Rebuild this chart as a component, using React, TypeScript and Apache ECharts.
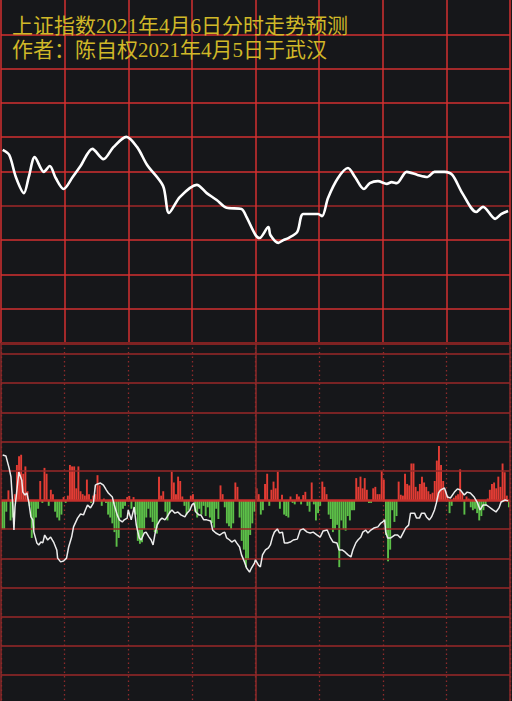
import React, { useEffect, useRef } from "react";
import * as echarts from "echarts";

const titleLines = ["上证指数2021年4月6日分时走势预测", "作者：陈自权2021年4月5日于武汉"];

// minutes since open (0-240), forecast level in grid units
const forecast: [number, number][] = [
  [0.8, 5.63], [3.9, 5.48], [7.0, 4.84], [10.8, 4.37], [13.1, 4.84], [15.9, 5.42], [20.2, 4.99], [23.0, 5.16],
  [25.8, 4.81], [29.5, 4.49], [33.8, 4.84], [37.5, 5.16], [43.1, 5.66], [48.3, 5.36], [53.0, 5.71], [59.1, 6.01],
  [64.2, 5.71], [68.9, 5.19], [76.4, 4.58], [79.2, 3.79], [84.4, 4.26], [92.3, 4.61], [97.0, 4.37], [101.7, 4.17],
  [106.4, 3.94], [113.4, 3.91], [115.8, 3.67], [120.0, 3.15], [121.9, 3.06], [126.1, 3.38], [127.0, 3.15],
  [130.8, 2.92], [133.1, 3.0], [135.5, 3.06], [139.7, 3.24], [142.5, 3.76], [149.5, 3.76], [151.4, 3.7],
  [154.2, 4.23], [158.9, 4.81], [163.6, 5.1], [166.9, 4.84], [171.1, 4.49], [173.9, 4.66], [177.7, 4.72],
  [181.9, 4.64], [184.2, 4.69], [186.6, 4.66], [191.3, 4.99], [196.4, 4.9], [201.1, 4.84], [204.4, 4.99],
  [209.1, 4.99], [212.8, 4.9], [217.5, 4.37], [224.1, 3.82], [227.3, 3.97], [233.0, 3.62], [235.8, 3.76],
  [239.1, 3.85],
];

// per-minute flow bars (grid units), four half-hour pairs
const flowMorning1 = [
  -1.0, -1.0, -0.4, 0.33, -0.7, -0.6, 0.2, 1.2, 1.5, 1.55, 0.9, 1.15, 0.3, -0.2, -1.3, -1.0, -0.6, -0.3, 0.65, -0.1,
  1.1, 0.9, -0.2, 0.35, 0.2, -0.4, -0.6, -0.7, -0.5, 0.1, -0.1, 0.15, 1.2, 1.15, 1.15, 0.4, 1.15, 0.3, 0.2, 0.15,
  0.7, 0.2, -0.1, 0.15, 0.2, 0.85, 0.5, -0.2, 0.05, -0.1, -0.5, -0.6, -0.8, -1.1, -1.6, -1.3, -0.6, -0.3, -0.2, 0.1,
];
const flowMorning2 = [
  0.14, -0.3, 0.1, -0.5, -1.4, -1.5, -1.45, -1.0, -0.6, -0.3, -0.6, -0.75, -1.1, -1.15, 0.8, 0.15, 0.3, -0.4, -0.7, -0.45,
  0.97, 0.6, 0.2, 0.8, 0.65, 0.12, -0.2, -0.5, -0.35, 0.15, 0.2, -0.4, -0.6, -0.3, -0.5, -0.2, -0.55, -0.25, -0.6, -0.8,
  -0.95, -0.3, -0.65, 0.5, 0.2, -0.25, -0.8, -0.9, -1.0, -0.8, 0.6, 0.45, -0.6, -1.4, -1.7, -2.3, -2.05, -1.2, -0.8, -0.4,
];
const flowAfternoon1 = [
  0.4, 0.2, -0.5, -0.35, 0.55, 0.9, -0.2, 0.35, 0.63, 0.4, 0.97, -0.3, 0.18, -0.5, -0.55, -0.6, 0.12, -0.1, -0.15, 0.2,
  0.12, -0.15, 0.17, 0.28, -0.2, -0.4, 0.6, -0.15, -0.7, -0.45, -0.2, 0.63, 0.45, 0.2, -0.5, -0.65, -1.1, -1.0, -0.85, -2.3,
  -0.7, -1.0, -1.05, -0.55, -0.7, -0.35, -0.35, 0.75, 0.45, 0.8, 0.4, 0.75, 0.35, -0.1, -0.1, 0.4, 0.45, 0.2, 0.2, 1.0,
];
const flowAfternoon2 = [
  0.7, -1.2, -2.1, -1.7, -0.35, -0.75, -0.55, 0.63, 0.18, 0.15, 0.9, 0.55, 0.5, 1.25, 1.25, 0.45, 0.3, 0.55, 0.8, 0.6,
  0.45, 0.3, 0.2, 0.25, 0.65, 1.35, 1.85, 1.2, 0.65, 0.35, 0.15, -0.45, -0.2, 0.08, 0.15, 0.2, 1.05, 0.25, -0.5, 0.12,
  0.05, -0.25, -0.35, -0.3, -0.45, -0.7, -0.55, -0.35, -0.2, 0.05, 0.35, 0.55, 0.6, 0.4, 0.8, 0.45, 1.25, 0.95, 0.15, -0.25,
];

// cumulative flow line (minute, grid units)
const flowLine: [number, number][] = [
  [0.8, 1.54], [2.3, 1.51], [3.8, 1.1], [4.7, 0.79], [5.6, -0.24], [6.1, -1.03], [6.6, -0.24], [7.5, 0.34],
  [8.4, 0.96], [9.8, 0.68], [10.3, 0.27], [11.3, 0.17], [12.2, 0.24], [13.1, -0.07], [14.1, -0.58], [15.0, -0.68],
  [15.5, -1.1], [16.9, -1.47], [17.8, -1.54], [18.8, -1.44], [19.7, -1.47], [20.6, -1.2], [22.0, -1.37],
  [23.4, -1.27], [24.8, -1.44], [26.3, -1.71], [26.7, -1.99], [28.1, -2.12], [29.5, -2.09], [30.9, -1.99],
  [31.9, -1.61], [33.3, -1.27], [34.2, -0.92], [36.1, -0.62], [37.5, -0.48], [38.9, -0.51], [39.8, -0.34],
  [40.8, -0.17], [42.2, -0.27], [43.6, -0.1], [44.5, 0.51], [45.5, 0.55], [46.9, 0.58], [48.3, 0.51], [49.7, 0.34],
  [50.6, 0.24], [52.5, 0.1], [53.4, -0.17], [54.8, -0.51], [55.8, -0.68], [57.2, -0.75], [58.1, -0.68],
  [59.5, -0.62], [60.0, -0.34], [61.4, -0.68], [62.8, -0.24], [63.8, -0.86], [65.2, -1.3], [66.1, -1.37],
  [67.5, -1.13], [68.4, -1.1], [69.8, -1.27], [70.8, -1.37], [71.7, -1.54], [72.7, -1.13], [73.6, -0.86],
  [75.0, -0.68], [75.9, -0.62], [77.3, -0.68], [78.3, -0.58], [79.7, -0.41], [80.6, -0.34], [82.0, -0.45],
  [83.4, -0.41], [84.8, -0.51], [86.7, -0.58], [87.7, -0.45], [89.1, -0.34], [90.0, -0.17], [90.9, -0.1],
  [91.9, -0.41], [93.3, -0.51], [94.2, -0.51], [95.6, -0.68], [97.0, -0.68], [98.9, -0.72], [99.8, -1.03],
  [101.3, -1.13], [103.1, -1.2], [104.5, -1.13], [105.5, -1.1], [106.4, -1.3], [107.8, -1.37], [108.8, -1.44],
  [110.2, -1.37], [111.1, -1.47], [112.5, -1.61], [113.4, -1.88], [114.8, -2.12], [115.8, -2.33], [117.2, -2.47],
  [118.1, -2.33], [119.5, -2.16], [120.0, -2.05], [121.4, -2.23], [122.3, -2.29], [123.3, -1.88], [124.7, -1.71],
  [126.1, -1.64], [127.0, -1.54], [128.0, -1.27], [128.9, -1.1], [130.3, -0.99], [131.3, -1.13], [132.7, -1.1],
  [133.6, -1.47], [135.0, -1.47], [136.4, -1.44], [137.8, -1.37], [139.7, -1.34], [141.1, -1.03], [142.5, -0.99],
  [144.4, -1.1], [145.8, -1.13], [147.2, -1.1], [149.1, -1.2], [150.5, -1.27], [151.9, -1.06], [153.8, -1.03],
  [155.2, -1.27], [156.6, -1.44], [158.4, -1.47], [159.4, -1.71], [160.8, -1.71], [162.2, -1.78], [163.6, -1.88],
  [165.0, -1.95], [165.9, -1.71], [167.3, -1.47], [168.3, -1.37], [169.7, -1.27], [170.6, -1.1], [172.0, -1.03],
  [173.0, -1.13], [174.4, -1.03], [175.8, -0.96], [177.7, -0.92], [179.1, -0.79], [180.0, -0.75], [180.9, -0.68],
  [181.4, -1.1], [182.3, -1.3], [183.8, -1.3], [185.6, -1.2], [187.0, -1.2], [188.4, -1.3], [189.8, -1.1],
  [190.8, -0.96], [192.2, -0.86], [193.1, -0.45], [195.0, -0.45], [195.9, -0.62], [197.3, -0.62], [198.3, -0.45],
  [199.7, -0.45], [200.6, -0.58], [202.0, -0.68], [203.0, -0.58], [204.4, -0.34], [205.3, -0.1], [206.3, 0.24],
  [207.2, 0.34], [209.1, 0.41], [210.5, 0.1], [211.9, 0.07], [213.8, 0.27], [215.2, 0.38], [216.6, 0.34],
  [218.4, 0.17], [219.8, 0.27], [221.3, 0.24], [223.1, 0.1], [224.5, -0.07], [225.9, -0.34], [227.3, -0.17],
  [228.8, -0.17], [230.2, -0.24], [232.0, -0.34], [233.4, -0.41], [234.8, -0.27], [235.8, -0.07], [237.7, 0.0],
  [239.1, -0.03],
];

const flowGridLevels = [-6, -5, -4, -3, -2, -1, 1, 2, 3, 4, 5];

export default function App() {
  const ref = useRef<HTMLDivElement>(null);
  useEffect(() => {
    const chart = echarts.init(ref.current!, null, { renderer: "svg" });
    const bars = [...flowMorning1, ...flowMorning2, ...flowAfternoon1, ...flowAfternoon2];
    const cats = bars.map((_, i) => String(i));
    const RED = "#d33030";
    const DARK = "#a02828";
    const hidden = { axisLine: { show: false }, axisTick: { show: false }, axisLabel: { show: false } };
    const yTopColors = Array.from({ length: 11 }, (_, i) => (i === 10 ? "rgba(0,0,0,0)" : i === 4 ? DARK : RED));
    const option: any = {
      animation: false,
      backgroundColor: "#16171a",
      grid: [
        { left: 1, width: 509, top: 0, height: 343 },
        { left: 1, width: 509, top: 343, height: 358 },
      ],
      xAxis: [
        {
          type: "value", gridIndex: 0, min: 0, max: 240, interval: 30, ...hidden,
          splitLine: { show: true, lineStyle: { color: RED, width: 1.5 } },
        },
        {
          type: "value", gridIndex: 1, min: 0, max: 240, interval: 30, ...hidden,
          splitLine: { show: true, lineStyle: { color: "#8e2a2a", width: 1.3, type: [1.5, 3] } },
        },
        { type: "category", gridIndex: 1, data: cats, boundaryGap: true, show: false },
      ],
      yAxis: [
        {
          type: "value", gridIndex: 0, min: 0, max: 10, interval: 1, ...hidden,
          splitLine: { show: true, lineStyle: { color: yTopColors, width: 1.5 } },
        },
        { type: "value", gridIndex: 1, min: -6.884, max: 5.377, ...hidden, splitLine: { show: false } },
      ],
      graphic: titleLines.map((t, i) => ({
        type: "text",
        left: 12,
        top: 15 + i * 24,
        z: 100,
        style: {
          text: t, fill: "#d0b828", fontSize: 21, lineHeight: 21,
          fontFamily: '"Liberation Serif", "Noto Sans CJK SC"',
        },
      })),
      series: [
        {
          type: "line", xAxisIndex: 0, yAxisIndex: 0, data: forecast, smooth: 0.3, showSymbol: false,
          lineStyle: { color: "#ffffff", width: 2.6 }, z: 5,
          markLine: {
            silent: true, symbol: ["none", "none"], label: { show: false },
            lineStyle: { color: "#7e2222", width: 3, type: "solid" },
            data: [{ yAxis: 0 }],
          },
        },
        {
          type: "bar", xAxisIndex: 2, yAxisIndex: 1, barCategoryGap: "10%",
          data: bars.map((v) => ({ value: v, itemStyle: { color: v >= 0 ? "#e33c34" : "#5cbf48" } })),
          markLine: {
            silent: true, symbol: ["none", "none"], label: { show: false },
            data: [
              ...flowGridLevels.map((k) => ({ yAxis: k, lineStyle: { color: "#9a2828", width: 1.5, type: "solid" } })),
              { yAxis: 0, lineStyle: { color: "#c4302c", width: 2.6, type: "solid" } },
            ],
          },
        },
        {
          type: "line", xAxisIndex: 1, yAxisIndex: 1, data: flowLine, showSymbol: false,
          lineStyle: { color: "#ececec", width: 1.5 }, z: 6,
          markLine: {
            silent: true, symbol: ["none", "none"], label: { show: false },
            lineStyle: { color: "#8e2a2a", width: 1.5, type: "solid" },
            data: [{ xAxis: 0 }, { xAxis: 120 }, { xAxis: 240 }],
          },
        },
      ],
    };
    chart.setOption(option);
    return () => chart.dispose();
  }, []);
  return <div ref={ref} style={{ position: "fixed", left: 0, top: 0, width: 512, height: 701 }} />;
}
